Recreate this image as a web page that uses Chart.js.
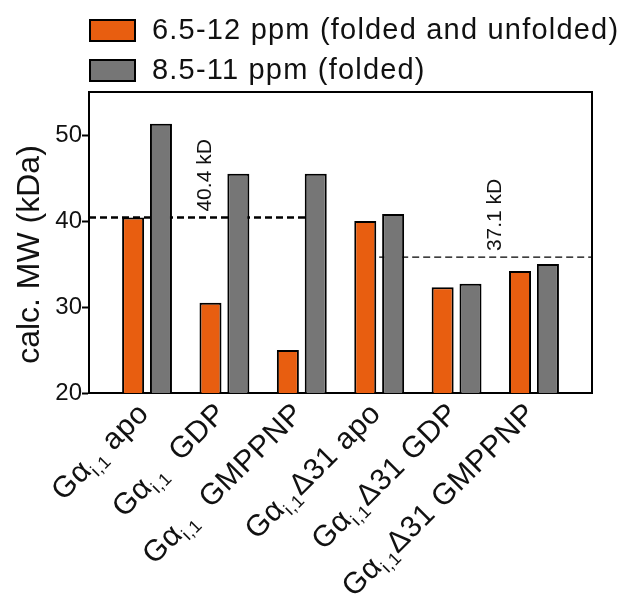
<!DOCTYPE html>
<html>
<head>
<meta charset="utf-8">
<script src="https://cdn.jsdelivr.net/npm/chart.js@4.4.1/dist/chart.umd.min.js"></script>
<style>
  html, body { margin: 0; padding: 0; background: #fff; }
  #wrap { width: 637px; height: 606px; }
</style>
</head>
<body>
<div id="wrap"><canvas id="mw" width="637" height="606"></canvas></div>
<script>
'use strict';

// ── data ───────────────────────────────────────────────
const labelHead = 'Gα';
const labelSub = 'i,1';
const labelTails = [' apo', '  GDP', '  GMPPNP', 'Δ31 apo', 'Δ31 GDP', 'Δ31 GMPPNP'];
const categories = labelTails.map(t => labelHead + labelSub + t);
const seriesNames = ['6.5-12 ppm (folded and unfolded)', '8.5-11 ppm (folded)'];
const broadRange = [40.4, 30.5, 25.0, 40.0, 32.3, 34.2];
const foldedRange = [51.3, 45.5, 45.5, 40.8, 32.7, 35.0];
const yTicks = [20, 30, 40, 50];
const yTitle = 'calc. MW (kDa)';
const refLevels = [40.4, 35.8];
const refLabels = ['40.4 kD', '37.1 kD'];

const FONT = "'Liberation Sans', Arial, sans-serif";
const ORANGE = '#E85E10';
const GREY = '#767676';

// ── custom drawing: frame, legend, reference lines, labels ──
const figurePlugin = {
  id: 'figure',
  beforeDatasetsDraw(chart, args, opts) {
    const { ctx } = chart;
    const x = chart.scales.x, y = chart.scales.y;
    opts.refs.forEach((r, i) => {
      const py = y.getPixelForValue(refLevels[i]);
      ctx.save();
      ctx.strokeStyle = '#000';
      ctx.lineWidth = r.width;
      ctx.setLineDash(r.dash);
      ctx.beginPath();
      ctx.moveTo(x.getPixelForValue(r.from), py);
      ctx.lineTo(x.getPixelForValue(r.to), py);
      ctx.stroke();
      ctx.restore();
    });
  },
  afterDraw(chart, args, opts) {
    const { ctx, chartArea: a } = chart;
    const x = chart.scales.x, y = chart.scales.y;

    // top + right of the box
    ctx.save();
    ctx.strokeStyle = '#000';
    ctx.lineWidth = 2;
    ctx.beginPath();
    ctx.moveTo(a.left, a.top);
    ctx.lineTo(a.right, a.top);
    ctx.lineTo(a.right, a.bottom);
    ctx.stroke();
    ctx.restore();

    // y title
    ctx.save();
    ctx.translate(opts.titleX, (a.top + a.bottom) / 2 + opts.titleDy);
    ctx.rotate(-Math.PI / 2);
    ctx.font = `32px ${FONT}`;
    ctx.fillStyle = '#111';
    ctx.textAlign = 'center';
    ctx.textBaseline = 'middle';
    ctx.fillText(yTitle, 0, 0);
    ctx.restore();

    // reference labels
    opts.refs.forEach((r, i) => {
      const py = y.getPixelForValue(refLevels[i]);
      ctx.save();
      ctx.translate(x.getPixelForValue(r.labelAt), py - 6);
      ctx.rotate(-Math.PI / 2);
      ctx.font = `21px ${FONT}`;
      ctx.fillStyle = '#111';
      ctx.textAlign = 'left';
      ctx.textBaseline = 'middle';
      ctx.fillText(refLabels[i], 0, 0);
      ctx.restore();
    });

    // legend
    chart.data.datasets.forEach((ds, i) => {
      const top = opts.legend.top + i * opts.legend.row;
      ctx.save();
      ctx.fillStyle = ds.backgroundColor;
      ctx.fillRect(opts.legend.left, top, 45, 21);
      ctx.strokeStyle = '#000';
      ctx.lineWidth = 2;
      ctx.strokeRect(opts.legend.left, top, 45, 21);
      ctx.font = `29px ${FONT}`;
      ctx.letterSpacing = '1.2px';
      ctx.fillStyle = '#111';
      ctx.textBaseline = 'middle';
      ctx.fillText(ds.label, opts.legend.left + 62, top + 11);
      ctx.restore();
    });

    // rotated category labels with subscript
    const big = `30px ${FONT}`, small = `18px ${FONT}`;
    labelTails.forEach((tail, i) => {
      ctx.save();
      ctx.letterSpacing = '0.5px';
      ctx.font = big;
      const wHead = ctx.measureText(labelHead).width;
      const wTail = ctx.measureText(tail).width;
      ctx.font = small;
      const wSub = ctx.measureText(labelSub).width;
      const total = wHead + wSub + wTail;
      ctx.translate(x.getPixelForValue(i) + opts.labelDx, a.bottom + opts.labelDy);
      ctx.rotate(-Math.PI / 4);
      ctx.fillStyle = '#111';
      ctx.textBaseline = 'alphabetic';
      ctx.textAlign = 'left';
      let cx = -total;
      ctx.font = big;
      ctx.fillText(labelHead, cx, 0);
      cx += wHead;
      ctx.font = small;
      ctx.fillText(labelSub, cx, 7);
      cx += wSub;
      ctx.font = big;
      ctx.fillText(tail, cx, 0);
      ctx.restore();
    });
  }
};

new Chart(document.getElementById('mw'), {
  type: 'bar',
  data: {
    datasets: [
      {
        label: seriesNames[0],
        data: broadRange.map((v, i) => ({ x: i, y: v })),
        backgroundColor: ORANGE,
        borderColor: '#000',
        borderWidth: 2,
        borderSkipped: false,
        categoryPercentage: 0.72,
        barPercentage: 0.79,
      },
      {
        label: seriesNames[1],
        data: foldedRange.map((v, i) => ({ x: i, y: v })),
        backgroundColor: GREY,
        borderColor: '#000',
        borderWidth: 2,
        borderSkipped: false,
        categoryPercentage: 0.72,
        barPercentage: 0.79,
      }
    ]
  },
  options: {
    responsive: false,
    animation: false,
    devicePixelRatio: 1,
    layout: { padding: { top: 92, right: 45, bottom: 213, left: 0 } },
    scales: {
      x: {
        type: 'linear',
        min: -0.75,
        max: 5.75,
        offset: false,
        afterBuildTicks: s => { s.ticks = categories.map((c, i) => ({ value: i })); },
        afterFit: s => { s.height = 0; },
        grid: { display: false },
        ticks: { display: false },
        border: { display: true, color: '#000', width: 2 }
      },
      y: {
        min: 20,
        max: 55,
        afterBuildTicks: s => { s.ticks = yTicks.map(v => ({ value: v })); },
        afterFit: s => { s.width = 89; },
        grid: {
          drawOnChartArea: false,
          drawTicks: true,
          tickLength: 7,
          tickWidth: 2,
          tickColor: '#000'
        },
        border: { display: true, color: '#000', width: 2 },
        ticks: {
          padding: 0,
          color: '#111',
          font: { family: FONT, size: 24 }
        }
      }
    },
    plugins: {
      legend: { display: false },
      tooltip: { enabled: false },
      figure: {
        legend: { left: 90, top: 20, row: 40 },
        titleX: 30,
        titleDy: 12,
        labelDx: 3,
        labelDy: 22,
        refs: [
          { from: -0.75, to: 2.2, width: 2.5, dash: [7, 4], labelAt: 0.75 },
          { from: 3.0, to: 5.75, width: 1.2, dash: [7, 4], labelAt: 4.5 }
        ]
      }
    }
  },
  plugins: [figurePlugin]
});
</script>
</body>
</html>
